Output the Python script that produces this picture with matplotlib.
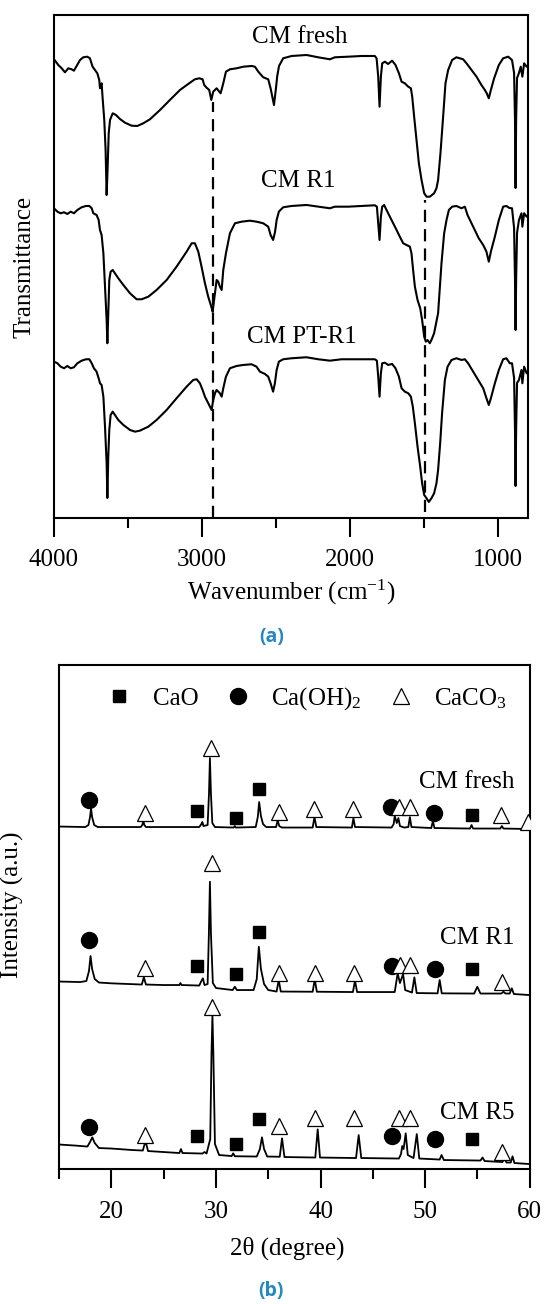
import matplotlib
matplotlib.use('Agg')
import matplotlib.pyplot as plt
from matplotlib.lines import Line2D
from matplotlib.ticker import FixedLocator

plt.rcParams['font.family'] = ['Liberation Serif', 'DejaVu Serif']
plt.rcParams['mathtext.fontset'] = 'custom'
plt.rcParams['mathtext.rm'] = 'Liberation Serif'
plt.rcParams['mathtext.it'] = 'Liberation Serif:italic'
plt.rcParams['mathtext.default'] = 'regular'

# ---------------- FTIR data (wavenumber, transmittance a.u.) ----------------
ftir_fresh_wn = [4000, 3971, 3948, 3926, 3903, 3881, 3865, 3847, 3824, 3802, 3775, 3757, 3739, 3723, 3707,
                 3694, 3689, 3678, 3671, 3660, 3651, 3644, 3637, 3630, 3621, 3603, 3581, 3554, 3520, 3475,
                 3437, 3396, 3351, 3283, 3216, 3148, 3080, 3047, 3017, 2995, 2984, 2968, 2950, 2936, 2923,
                 2900, 2873, 2855, 2837, 2810, 2765, 2720, 2664, 2641, 2618, 2585, 2551, 2535, 2512, 2500,
                 2490, 2478, 2450, 2393, 2292, 2213, 2134, 2100, 2010, 1920, 1830, 1818, 1807, 1798, 1789,
                 1780, 1762, 1740, 1713, 1690, 1667, 1649, 1627, 1604, 1586, 1577, 1564, 1548, 1532, 1514,
                 1496, 1480, 1458, 1429, 1413, 1402, 1386, 1368, 1352, 1334, 1307, 1278, 1233, 1210, 1176,
                 1142, 1109, 1086, 1073, 1059, 1045, 1023, 991, 962, 928, 902, 888, 882, 878, 874, 868, 855,
                 843, 832, 820, 803, 795]
ftir_fresh_T = [458.7, 453, 449.7, 445.7, 449.7, 448.7, 447.3, 452, 458, 460.7, 461.3, 459.7, 451.3, 448, 444.7,
                438, 429.7, 434.7, 419.7, 398, 368, 323, 351.3, 384.7, 398, 404.7, 403, 399, 395.3, 392.3,
                392, 394.7, 398.7, 408, 418, 428, 435.3, 438.7, 439.7, 438.7, 433, 430.3, 428, 418, 426.3,
                429.7, 424.7, 434.7, 446.3, 448.7, 449.7, 451.3, 452, 451.3, 446.3, 440.7, 438.7, 429.7, 413, 428,
                442, 452, 459.7, 462, 463, 460.7, 458.7, 460.7, 461.3, 462, 462, 459.7, 441.3, 411.3, 441.3,
                454.7, 456.3, 454, 457.3, 453, 444.7, 436.3, 434.7, 431.3, 429.7, 421.3, 401.3, 378, 354.7, 338,
                324.7, 321.3, 321.3, 324.7, 329.7, 338, 364.7, 401.3, 434.7, 448, 458, 460.7, 458.7, 454.7, 448,
                441.3, 433, 428, 424.7, 419.7, 428, 439.7, 453, 459.7, 461.3, 458, 445, 400, 330, 400, 440, 445,
                451.3, 441.3, 454.7, 451.3, 452]

ftir_r1_wn = [4000, 3977, 3955, 3932, 3910, 3887, 3865, 3842, 3813, 3784, 3761, 3745, 3734, 3712, 3698, 3689,
              3678, 3666, 3655, 3644, 3639, 3633, 3626, 3617, 3603, 3588, 3565, 3531, 3486, 3441, 3407, 3362,
              3306, 3238, 3171, 3103, 3069, 3047, 3024, 3002, 2979, 2957, 2936, 2927, 2911, 2900, 2889, 2878,
              2866, 2855, 2837, 2810, 2776, 2731, 2675, 2630, 2585, 2551, 2535, 2518, 2505, 2494, 2479, 2450,
              2393, 2292, 2213, 2134, 2100, 2010, 1920, 1830, 1816, 1807, 1798, 1789, 1780, 1767, 1751, 1728,
              1706, 1683, 1661, 1638, 1616, 1593, 1582, 1571, 1559, 1541, 1523, 1510, 1496, 1485, 1474, 1458,
              1447, 1429, 1411, 1402, 1390, 1379, 1361, 1345, 1329, 1307, 1278, 1244, 1221, 1203, 1176, 1154,
              1127, 1097, 1075, 1059, 1045, 1018, 991, 962, 940, 920, 902, 888, 882, 878, 874, 868, 855, 838,
              832, 820, 803, 795]
ftir_r1_T = [309.7, 306.3, 304.7, 305.7, 304, 306.3, 304.7, 308, 310.7, 312, 312, 309.7, 304.7, 303, 298, 288,
             283, 264.7, 231.3, 198, 174.7, 204.7, 238, 246.3, 248, 244.7, 239.7, 233, 224.7, 218.7, 218.7, 221.3,
             228, 238, 251.3, 266.3, 274.7, 274.7, 266.3, 251.3, 234.7, 221.3, 211.3, 206.3, 224.7, 238, 236.3, 231.3,
             228, 248, 264.7, 284.7, 294.7, 296.3, 297.3, 296.3, 294.7, 291.3, 283, 278, 286, 298, 306.3, 310.7,
             312, 313, 311.3, 309.7, 311.3, 311.3, 312, 312.7, 311.3, 294.7, 278, 301.3, 311.3, 313, 308, 301.3,
             294.7, 288, 281.3, 274.7, 273, 271.3, 264.7, 248, 231.3, 218, 209.7, 198, 181.3, 176.3, 178, 174.7,
             178, 184.7, 198, 204.7, 231.3, 254.7, 284.7, 298, 308, 311.3, 312, 309.7, 311.3, 303, 294.7, 288,
             279.7, 273, 266.3, 256.3, 266.3, 281.3, 298, 311.3, 312, 310, 309.7, 290, 240, 188, 240, 285, 298, 304.7,
             291.3, 304.7, 301.3, 302]

ftir_pt_wn = [4000, 3977, 3955, 3932, 3910, 3887, 3865, 3842, 3813, 3784, 3761, 3745, 3730, 3712, 3698, 3689,
              3678, 3666, 3655, 3644, 3639, 3633, 3626, 3617, 3603, 3588, 3565, 3531, 3486, 3452, 3419, 3362,
              3306, 3238, 3171, 3103, 3058, 3035, 3013, 2995, 2979, 2957, 2934, 2923, 2911, 2900, 2889, 2878,
              2866, 2855, 2837, 2810, 2765, 2720, 2664, 2630, 2607, 2573, 2551, 2535, 2518, 2506, 2494, 2479,
              2450, 2393, 2292, 2213, 2134, 2055, 1920, 1830, 1816, 1807, 1798, 1789, 1780, 1762, 1740, 1713,
              1690, 1667, 1649, 1627, 1604, 1586, 1573, 1559, 1541, 1523, 1510, 1496, 1480, 1465, 1447, 1429,
              1413, 1402, 1388, 1375, 1356, 1338, 1311, 1278, 1244, 1221, 1199, 1165, 1131, 1097, 1075, 1059,
              1045, 1018, 991, 962, 940, 917, 902, 888, 882, 878, 874, 868, 855, 838, 832, 820, 803, 795]
ftir_pt_T = [156.3, 154.7, 151.3, 149.7, 152, 149.7, 150.7, 154.7, 157.3, 158.7, 158.7, 154.7, 149.7, 146.3, 139.7,
             134.7, 133, 121.3, 91.3, 54.7, 20, 61.3, 88, 103, 106.3, 103, 98, 93, 88, 86.3, 87.3, 91.3,
             98, 108, 119.7, 131.3, 138, 138.7, 134.7, 128, 121.3, 114.7, 108, 118, 124.7, 128, 126.3, 124.7,
             121.3, 129.7, 141.3, 149.7, 152, 153, 153.7, 151.3, 146.3, 144, 141.3, 134.7, 126.3, 134.7, 148, 156.3,
             158.7, 159.7, 160.7, 158.7, 157.3, 158.7, 158.7, 158.7, 157.3, 141.3, 121.3, 144.7, 154.7, 155.3, 153, 154,
             149.7, 141.3, 129.7, 126.3, 124.7, 121.3, 111.3, 94.7, 71.3, 51.3, 34.7, 23, 19.7, 16, 19.7, 24.7,
             34.7, 48, 74.7, 104.7, 138, 151.3, 158, 159.7, 158, 158.7, 154.7, 146.3, 138, 129.7, 119.7, 113,
             119.7, 134.7, 148, 158.7, 159.7, 154.7, 154.7, 140, 90, 32, 90, 135, 138, 148, 134.7, 151.3, 144.7, 146]

ftir_labels = ['CM fresh', 'CM R1', 'CM PT-R1']
ftir_ticks = [4000, 3000, 2000, 1000]
ftir_minor = [3500, 2500, 1500]
band_wn = [2925, 1490]

# ---------------- XRD data (2theta, intensity a.u.) ----------------
xrd_fresh_2t = [15.0, 17.5, 17.8, 17.95, 18.05, 18.15, 18.35, 18.7, 22.8, 22.95, 23.05, 23.15, 23.3, 28.4, 28.6,
                28.7, 28.8, 29.2, 29.33, 29.42, 29.52, 29.65, 29.9, 31.7, 31.8, 31.9, 33.8, 34.0, 34.13, 34.3,
                34.5, 34.8, 35.75, 35.9, 36.05, 36.3, 39.25, 39.42, 39.6, 43.0, 43.15, 43.3, 46.8, 47.0, 47.1,
                47.3, 47.45, 47.6, 48.0, 48.4, 48.55, 48.7, 50.6, 50.75, 50.9, 54.3, 54.45, 54.6, 57.2, 57.35,
                57.5, 60.0]
xrd_fresh_I = [342.5, 342, 344, 352, 360.5, 352, 344, 342, 342, 344, 348, 344, 342, 342, 345,
               347, 343, 344, 375, 411, 375, 346, 342, 341.5, 343, 341.5, 342, 352, 367, 353,
               345, 342, 342, 349, 343, 341.5, 341.5, 352, 342, 341.5, 351, 342, 341.5, 345, 353,
               346, 351, 343, 341.5, 342, 352, 342, 341, 348, 341, 340.5, 344, 340.5, 340.5, 343,
               340.5, 340]

xrd_r1_2t = [15.0, 17.0, 17.6, 17.85, 18.0, 18.15, 18.4, 18.8, 20.0, 22.9, 23.1, 23.3, 25.0, 26.5, 26.6,
             26.7, 28.4, 28.6, 28.75, 28.9, 29.2, 29.32, 29.42, 29.52, 29.7, 30.0, 31.6, 31.8, 32.0, 33.6,
             33.9, 34.1, 34.3, 34.6, 35.0, 35.8, 36.0, 36.2, 39.25, 39.45, 39.65, 43.1, 43.3, 43.5, 47.1,
             47.38, 47.6, 47.9, 48.1, 48.75, 48.98, 49.2, 51.2, 51.4, 51.6, 54.7, 55.0, 55.3, 57.3, 57.5,
             57.7, 58.1, 58.3, 58.5, 60.0]
xrd_r1_I = [187.5, 187, 188, 198, 213, 200, 190, 186.5, 185.7, 184.5, 191.7, 184.5, 184, 184, 186,
            184, 183.5, 188, 190.7, 184, 185, 235, 287.3, 235, 186, 181, 179, 182.3, 179, 179,
            190, 222.3, 200, 185, 179, 177.5, 189, 177.5, 177.3, 189.7, 177.3, 177, 188.3, 177, 177,
            195.7, 186, 195, 179, 176.5, 191.7, 176, 175.7, 189, 175.7, 175.5, 182.3, 175.5, 175.5, 177.3,
            175.5, 175.5, 180.7, 175, 174]

xrd_r5_2t = [15.0, 16.5, 17.7, 17.95, 18.17, 18.4, 18.8, 20.0, 22.0, 23.0, 23.26, 23.5, 25.0, 26.5, 26.65,
             26.8, 28.7, 28.9, 29.1, 29.45, 29.57, 29.66, 29.75, 29.9, 30.3, 31.5, 31.65, 31.8, 33.9, 34.2,
             34.4, 34.6, 34.9, 36.1, 36.32, 36.55, 39.5, 39.73, 39.95, 43.4, 43.65, 43.9, 47.5, 47.7, 47.82,
             47.95, 48.15, 48.35, 48.9, 49.21, 49.45, 51.4, 51.58, 51.8, 55.3, 55.5, 55.7, 57.4, 57.6, 57.8,
             58.2, 58.37, 58.55, 60.0]
xrd_r5_I = [24.5, 23.5, 22.5, 27, 31.7, 26, 21, 20.5, 19, 18.5, 28, 18, 17, 16, 20,
            16, 15.5, 17, 15.5, 30, 115, 154, 115, 25, 14, 13, 15.7, 12.8, 12.5, 20,
            31.7, 20, 12.5, 12.3, 30.7, 12, 11.5, 39.7, 11.5, 11, 34, 11, 10.5, 15, 23,
            20, 35.7, 14, 11, 35, 10.5, 9.5, 14, 9, 8.5, 11.5, 8, 7, 10, 6.5,
            6.5, 12.7, 6, 5]

# phase markers (2theta, y) for each pattern
cao_2t = {'fresh': [28.16, 31.92, 34.15, 54.48], 'r1': [28.16, 31.92, 34.15, 54.48], 'r5': [28.16, 31.92, 34.15, 54.48]}
cao_y = {'fresh': [358, 350.7, 379.7, 354], 'r1': [203, 195, 237.3, 200], 'r5': [33, 24.7, 49.7, 29.7]}
caoh_2t = {'fresh': [17.83, 46.71, 50.81], 'r1': [17.83, 46.81, 50.91], 'r5': [17.83, 46.81, 50.91]}
caoh_y = {'fresh': [369, 362.3, 355.7], 'r1': [229, 203, 200], 'r5': [41.7, 33, 29.7]}
caco3_2t = {'fresh': [23.17, 29.49, 35.99, 39.42, 43.15, 47.55, 48.58, 57.31, 59.85],
            'r1': [23.17, 29.59, 35.99, 39.49, 43.22, 47.65, 48.58, 57.38],
            'r5': [23.17, 29.59, 35.99, 39.49, 43.22, 47.55, 48.58, 57.38]}
caco3_y = {'fresh': [355.7, 421.3, 357.3, 359.7, 359.7, 362.3, 362.3, 353.7, 347.3],
           'r1': [200.7, 305.7, 196.3, 196.3, 196.3, 204, 204, 187.3],
           'r5': [34, 162.3, 43, 51.3, 51.3, 50.7, 50.7, 17.3]}
xrd_labels = ['CM fresh', 'CM R1', 'CM R5']
phase_names = ['CaO', r'Ca(OH)$_{2}$', r'CaCO$_{3}$']
xrd_ticks = [20, 30, 40, 50, 60]
xrd_minor = [15, 25, 35, 45, 55]

FS = 18
fig = plt.figure(figsize=(5.46, 13.04), dpi=100)

# ---------------- panel (a) FTIR ----------------
ax1 = fig.add_axes([0.0989, 0.6028, 0.8681, 0.3857])
for wn, t in [(ftir_fresh_wn, ftir_fresh_T), (ftir_r1_wn, ftir_r1_T), (ftir_pt_wn, ftir_pt_T)]:
    ax1.plot(wn, t, color='black', lw=1.5, solid_joinstyle='round')
ax1.plot([band_wn[0], band_wn[0]], [0, 416], color='black', lw=1.6, dashes=(5.5, 3.2))
ax1.plot([band_wn[1], band_wn[1]], [6, 318], color='black', lw=1.6, dashes=(5.5, 3.2))
ax1.set_xlim(4000, 794)
ax1.set_ylim(0, 503)
ax1.set_yticks([])
ax1.xaxis.set_major_locator(FixedLocator(ftir_ticks))
ax1.xaxis.set_minor_locator(FixedLocator(ftir_minor))
ax1.tick_params(axis='x', which='major', direction='out', length=14, width=1.5, pad=8, labelsize=FS)
ax1.tick_params(axis='x', which='minor', direction='out', length=7, width=1.5)
for s in ax1.spines.values():
    s.set_linewidth(1.5)
ax1.set_xlabel(r'Wavenumber (cm$^{-1}$)', fontsize=FS, va='center')
ax1.xaxis.set_label_coords(0.5, -0.149)
ax1.set_ylabel('Transmittance', fontsize=FS, va='center')
ax1.yaxis.set_label_coords(-0.062, 0.5)
for lab, (xf, yf) in zip(ftir_labels, [(0.518, 0.957), (0.515, 0.669), (0.522, 0.359)]):
    ax1.text(xf, yf, lab, transform=ax1.transAxes, ha='center', va='center', fontsize=FS)

# ---------------- panel (b) XRD ----------------
ax2 = fig.add_axes([0.1084, 0.1035, 0.8615, 0.3865])
for x, y in [(xrd_fresh_2t, xrd_fresh_I), (xrd_r1_2t, xrd_r1_I), (xrd_r5_2t, xrd_r5_I)]:
    ax2.plot(x, y, color='black', lw=1.3)
for key in ['fresh', 'r1', 'r5']:
    ax2.plot(cao_2t[key], cao_y[key], ls='none', marker='s', ms=8.8, color='black', zorder=4)
    ax2.plot(caoh_2t[key], caoh_y[key], ls='none', marker='o', ms=11.5, color='black', zorder=4)
    ax2.plot(caco3_2t[key], caco3_y[key], ls='none', marker='^', ms=12, mfc='white', mec='black',
             mew=0.9, zorder=5)
ax2.set_xlim(15, 60)
ax2.set_ylim(0, 504)
ax2.set_yticks([])
ax2.xaxis.set_major_locator(FixedLocator(xrd_ticks))
ax2.xaxis.set_minor_locator(FixedLocator(xrd_minor))
ax2.tick_params(axis='x', which='major', direction='out', length=14, width=1.5, pad=9, labelsize=FS)
ax2.tick_params(axis='x', which='minor', direction='out', length=7, width=1.5)
for s in ax2.spines.values():
    s.set_linewidth(1.5)
ax2.set_xlabel('2θ (degree)', fontsize=FS, va='center')
ax2.xaxis.set_label_coords(0.485, -0.157)
ax2.set_ylabel('Intensity (a.u.)', fontsize=FS, va='center')
ax2.yaxis.set_label_coords(-0.10, 0.525)
for lab, yf in zip(xrd_labels, [0.7685, 0.4583, 0.1105]):
    ax2.text(0.967, yf, lab, transform=ax2.transAxes, ha='right', va='center', fontsize=FS)

handles = [Line2D([], [], ls='none', marker='s', ms=8.8, color='black'),
           Line2D([], [], ls='none', marker='o', ms=11.5, color='black'),
           Line2D([], [], ls='none', marker='^', ms=12, mfc='white', mec='black', mew=0.9)]
ax2.legend(handles, phase_names, loc='center', bbox_to_anchor=(0.527, 0.9325), ncol=3, frameon=False,
           fontsize=FS, handlelength=1.0, handletextpad=0.85, columnspacing=1.05, borderpad=0)

# captions
cap_color = '#2389c0'
fig.text(0.497, 1 - 637 / 1304, '(a)', ha='center', va='center', fontsize=14, fontweight='bold',
         color=cap_color, family='Open Sans')
fig.text(0.497, 1 - 1291 / 1304, '(b)', ha='center', va='center', fontsize=14, fontweight='bold',
         color=cap_color, family='Open Sans')

fig.savefig('out.png', dpi=100)
